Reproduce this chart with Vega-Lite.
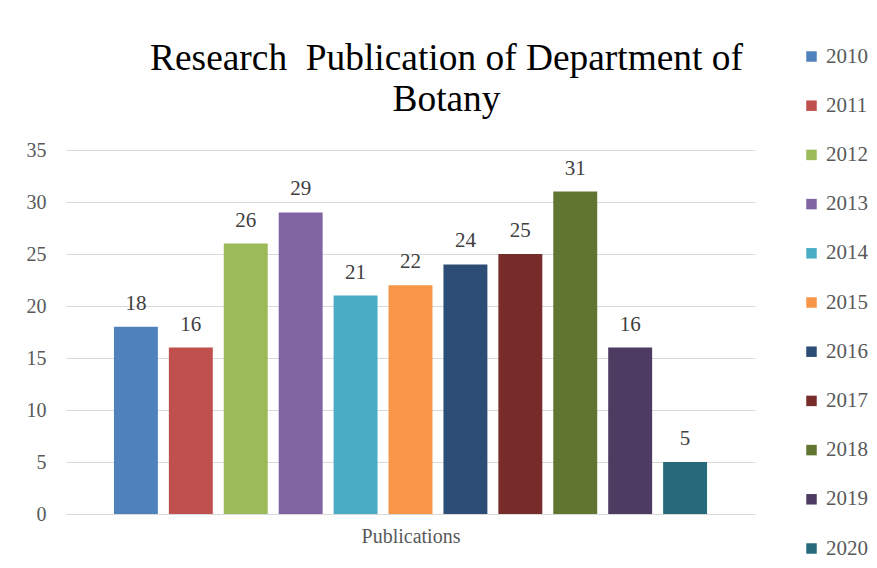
{
  "$schema": "https://vega.github.io/schema/vega-lite/v6.json",
  "width": 689,
  "height": 364,
  "autosize": {"type": "none"},
  "padding": {"left": 66, "top": 150, "right": 122, "bottom": 54},
  "background": "white",
  "config": {"view": {"stroke": null}, "font": "Liberation Serif"},
  "title": {
    "text": ["Research\u00a0 Publication of Department of", "Botany"],
    "font": "Liberation Serif",
    "fontSize": 37.4,
    "fontWeight": "normal",
    "color": "#000000",
    "anchor": "middle",
    "dx": 36,
    "dy": 112,
    "lineHeight": 41,
    "offset": 40
  },
  "data": {
    "values": [
      {"year": "2010", "publications": 18},
      {"year": "2011", "publications": 16},
      {"year": "2012", "publications": 26},
      {"year": "2013", "publications": 29},
      {"year": "2014", "publications": 21},
      {"year": "2015", "publications": 22},
      {"year": "2016", "publications": 24},
      {"year": "2017", "publications": 25},
      {"year": "2018", "publications": 31},
      {"year": "2019", "publications": 16},
      {"year": "2020", "publications": 5}
    ]
  },
  "encoding": {
    "x": {
      "field": "year",
      "type": "nominal",
      "scale": {"paddingInner": 0.2, "paddingOuter": 0.873},
      "axis": {
        "title": "Publications",
        "labels": false,
        "ticks": false,
        "domainColor": "#D9D9D9",
        "domainWidth": 1,
        "titleFont": "Liberation Serif",
        "titleFontSize": 20,
        "titleFontWeight": "normal",
        "titleColor": "#595959",
        "titlePadding": 12
      }
    },
    "y": {
      "field": "publications",
      "type": "quantitative",
      "scale": {"domain": [0, 35]},
      "axis": {
        "title": null,
        "values": [0, 5, 10, 15, 20, 25, 30, 35],
        "domain": false,
        "ticks": false,
        "gridColor": "#D9D9D9",
        "gridWidth": 1,
        "labelFont": "Liberation Serif",
        "labelFontSize": 20,
        "labelColor": "#595959",
        "labelPadding": 20
      }
    }
  },
  "layer": [
    {
      "mark": {"type": "bar"},
      "encoding": {
        "color": {
          "field": "year",
          "type": "nominal",
          "scale": {
            "domain": ["2010", "2011", "2012", "2013", "2014", "2015", "2016", "2017", "2018", "2019", "2020"],
            "range": ["#4F81BD", "#C0504D", "#9BBB59", "#8064A2", "#4BACC6", "#F79646", "#2C4D75", "#772C2A", "#5F7530", "#4D3B62", "#276A7C"]
          },
          "legend": {
            "title": null,
            "orient": "none",
            "legendX": 735,
            "legendY": -104,
            "symbolType": "square",
            "symbolSize": 110,
            "symbolStrokeWidth": 0,
            "labelFont": "Liberation Serif",
            "labelFontSize": 21,
            "labelColor": "#595959",
            "labelOffset": 4,
            "rowPadding": 27.2
          }
        }
      }
    },
    {
      "mark": {
        "type": "text",
        "baseline": "bottom",
        "dy": -13,
        "font": "Liberation Serif",
        "fontSize": 21,
        "color": "#404040"
      },
      "encoding": {
        "text": {"field": "publications", "type": "quantitative"}
      }
    }
  ]
}
